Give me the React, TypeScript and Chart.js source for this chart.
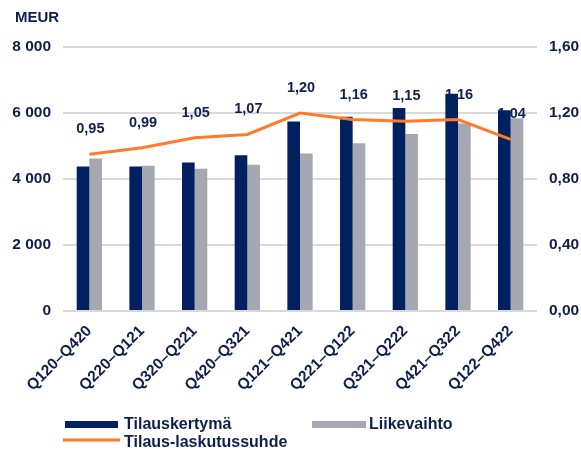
import React, { useEffect, useRef } from "react";
import { Chart, registerables } from "chart.js";

Chart.register(...registerables);

const categories = [
  "Q120–Q420",
  "Q220–Q121",
  "Q320–Q221",
  "Q420–Q321",
  "Q121–Q421",
  "Q221–Q122",
  "Q321–Q222",
  "Q421–Q322",
  "Q122–Q422",
];
const orderIntake = [4380, 4380, 4500, 4720, 5740, 5890, 6150, 6580, 6080];
const revenue = [4620, 4400, 4310, 4430, 4770, 5080, 5360, 5680, 5840];
const bookToBill = [0.95, 0.99, 1.05, 1.07, 1.2, 1.16, 1.15, 1.16, 1.04];

const NAVY = "#002060";
const GRAY = "#a5a8b3";
const ORANGE = "#ff7b2b";
const TEXT = "#0e1f4e";
const FONT = "'Liberation Sans', Arial, sans-serif";

const fmtThousands = (v: number) =>
  String(v).replace(/\B(?=(\d{3})+(?!\d))/g, " ");
const fmtRatio = (v: number) => v.toFixed(2).replace(".", ",");

const labelsPlugin = {
  id: "ratioLabels",
  beforeDatasetsDraw(chart: any) {
    const meta = chart.getDatasetMeta(2);
    const ctx = chart.ctx;
    ctx.save();
    ctx.fillStyle = TEXT;
    ctx.font = `bold 14.5px ${FONT}`;
    ctx.textAlign = "center";
    ctx.textBaseline = "middle";
    meta.data.forEach((pt: any, i: number) => {
      ctx.fillText(fmtRatio(bookToBill[i]), pt.x + 1, pt.y - 25);
    });
    ctx.restore();
  },
  afterDraw(chart: any) {
    const ctx = chart.ctx;
    ctx.save();
    ctx.fillStyle = TEXT;
    ctx.textAlign = "left";
    ctx.textBaseline = "alphabetic";
    ctx.font = `bold 15px ${FONT}`;
    ctx.fillText("MEUR", 15, 22);
    // legend
    ctx.font = `bold 16px ${FONT}`;
    ctx.fillStyle = NAVY;
    ctx.fillRect(65, 421, 53, 7);
    ctx.fillStyle = GRAY;
    ctx.fillRect(312, 421, 54, 7);
    ctx.strokeStyle = ORANGE;
    ctx.lineWidth = 3;
    ctx.beginPath();
    ctx.moveTo(63, 440);
    ctx.lineTo(120, 440);
    ctx.stroke();
    ctx.fillStyle = TEXT;
    ctx.fillText(chart.data.datasets[0].label, 124, 429);
    ctx.fillText(chart.data.datasets[1].label, 369, 429);
    ctx.fillText(chart.data.datasets[2].label, 124, 447);
    ctx.restore();
  },
};

export default function App() {
  const ref = useRef<HTMLCanvasElement | null>(null);
  useEffect(() => {
    if (!ref.current) return;
    const chart = new Chart(ref.current, {
      type: "bar",
      data: {
        labels: categories,
        datasets: [
          {
            type: "bar",
            label: "Tilauskertymä",
            data: orderIntake,
            backgroundColor: NAVY,
            yAxisID: "y",
            order: 1,
            categoryPercentage: 0.48,
            barPercentage: 1,
          },
          {
            type: "bar",
            label: "Liikevaihto",
            data: revenue,
            backgroundColor: GRAY,
            yAxisID: "y",
            order: 1,
            categoryPercentage: 0.48,
            barPercentage: 1,
          },
          {
            type: "line",
            label: "Tilaus-laskutussuhde",
            data: bookToBill,
            borderColor: ORANGE,
            borderWidth: 3,
            pointRadius: 0,
            tension: 0,
            yAxisID: "y1",
            order: 0,
          } as any,
        ],
      },
      options: {
        responsive: false,
        animation: false,
        layout: { padding: { top: 47, left: 0, right: 0, bottom: 0 } },
        plugins: {
          legend: { display: false },
          tooltip: { enabled: false },
        },
        scales: {
          x: {
            grid: { display: false },
            border: { display: false },
            ticks: {
              autoSkip: false,
              maxRotation: 45,
              minRotation: 45,
              color: TEXT,
              padding: 3,
              font: { family: FONT, size: 15.5, weight: "bold" },
            },
            afterFit: (s: any) => {
              s.height = 142;
            },
          },
          y: {
            position: "left",
            min: 0,
            max: 8000,
            ticks: {
              stepSize: 2000,
              color: TEXT,
              padding: 12,
              font: { family: FONT, size: 15.5, weight: "bold" },
              callback: (v: any) => fmtThousands(Number(v)),
            },
            grid: { color: "#d9d9d9", lineWidth: 2, drawTicks: false },
            border: { display: false },
            afterFit: (s: any) => {
              s.width = 63;
            },
          },
          y1: {
            position: "right",
            min: 0,
            max: 1.6,
            ticks: {
              stepSize: 0.4,
              color: TEXT,
              padding: 12,
              font: { family: FONT, size: 15.5, weight: "bold" },
              callback: (v: any) => fmtRatio(Number(v)),
            },
            grid: { display: false, drawTicks: false },
            border: { display: false },
            afterFit: (s: any) => {
              s.width = 44;
            },
          },
        },
      } as any,
      plugins: [labelsPlugin],
    });
    return () => chart.destroy();
  }, []);
  return (
    <div style={{ position: "fixed", left: 0, top: 0, width: 581, height: 453, background: "#fff" }}>
      <canvas ref={ref} width={581} height={453} />
    </div>
  );
}
